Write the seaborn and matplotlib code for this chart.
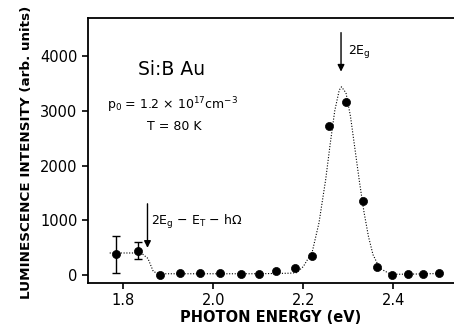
import matplotlib
matplotlib.use("Agg")
import matplotlib.pyplot as plt
import seaborn as sns
import pandas as pd

# measured points
energy = [1.784, 1.833, 1.882, 1.926, 1.970, 2.015, 2.061, 2.102, 2.139, 2.182,
          2.220, 2.257, 2.295, 2.333, 2.363, 2.398, 2.433, 2.467, 2.502]
intensity = [379, 440, 0, 30, 30, 30, 10, 10, 70, 120,
             350, 2720, 3160, 1355, 150, 0, 10, 10, 40]
# error bars on the first two points
err_x = [1.784, 1.833]
err_y = [379, 440]
err_low = [337, 152]
err_high = [335, 152]

# dotted fit curve
curve_x = [1.770, 1.800, 1.840, 1.855, 1.867, 1.880, 1.900, 2.000, 2.100, 2.170,
           2.185, 2.200, 2.220, 2.235, 2.250, 2.260, 2.270, 2.280, 2.285, 2.295,
           2.305, 2.315, 2.325, 2.335, 2.345, 2.355, 2.370, 2.390, 2.400, 2.450, 2.505]
curve_y = [400, 400, 400, 300, 60, 20, 20, 20, 20, 30,
           40, 150, 420, 950, 1750, 2400, 3000, 3380, 3440, 3330,
           2900, 2300, 1700, 1150, 700, 370, 120, 30, 10, 15, 25]

sns.set_style("ticks")
plt.rcParams['font.family'] = ['DejaVu Sans']
plt.rcParams['mathtext.fontset'] = 'dejavusans'
plt.rcParams['text.color'] = 'black'
plt.rcParams['axes.labelcolor'] = 'black'

fig = plt.figure(figsize=(4.54, 3.33), dpi=100)
ax = fig.add_axes([0.194, 0.150, 0.806, 0.796])

df_curve = pd.DataFrame({"x": curve_x, "y": curve_y})
sns.lineplot(data=df_curve, x="x", y="y", sort=False, ax=ax, color="black",
             linestyle=(0, (1, 1.5)), linewidth=0.8)
ax.errorbar(err_x, err_y, yerr=[err_low, err_high], fmt="none", ecolor="black",
            elinewidth=1.0, capsize=3, capthick=1.0)
df_pts = pd.DataFrame({"x": energy, "y": intensity})
sns.scatterplot(data=df_pts, x="x", y="y", ax=ax, color="black", s=34,
                edgecolor="black", linewidth=0.5, zorder=5)

ax.set_xlim(1.722, 2.535)
ax.set_ylim(-150, 4700)
ax.set_xticks([1.8, 2.0, 2.2, 2.4])
ax.set_xticklabels(["1.8", "2.0", "2.2", "2.4"])
ax.set_yticks([0, 1000, 2000, 3000, 4000])
ax.tick_params(axis="both", direction="out", length=4, width=1.2, labelsize=10.5,
               colors="black")
for s in ["left", "bottom", "top"]:
    ax.spines[s].set_visible(True)
    ax.spines[s].set_linewidth(1.3)
    ax.spines[s].set_color("black")
ax.spines["right"].set_visible(False)

ax.set_xlabel("PHOTON ENERGY (eV)", fontsize=10.5, fontweight="bold", labelpad=1)
ax.set_ylabel("LUMINESCENCE INTENSITY (arb. units)", fontsize=9.7,
              fontweight="bold")
ax.yaxis.set_label_coords(-0.15, 0.494)

ax.text(1.833, 3755, "Si:B Au", fontsize=13.5, va="center", ha="left")
ax.text(1.764, 3113, r"p$_0$ = 1.2 × 10$^{17}$cm$^{-3}$", fontsize=9, va="center", ha="left")
ax.text(1.853, 2710, "T = 80 K", fontsize=9, va="center", ha="left")

ax.annotate("", xy=(2.284, 3718), xytext=(2.284, 4432),
            arrowprops=dict(arrowstyle="-|>", color="black", lw=1.0,
                            mutation_scale=10, shrinkA=0, shrinkB=0))
ax.text(2.300, 4084, r"2E$_\mathrm{g}$", fontsize=9, va="center", ha="left")

ax.annotate("", xy=(1.854, 494), xytext=(1.854, 1300),
            arrowprops=dict(arrowstyle="-|>", color="black", lw=1.0,
                            mutation_scale=10, shrinkA=0, shrinkB=0))
ax.text(1.862, 970, r"2E$_\mathrm{g}$ − E$_\mathrm{T}$ − hΩ", fontsize=9, va="center", ha="left")

fig.savefig("out.png", dpi=100)
